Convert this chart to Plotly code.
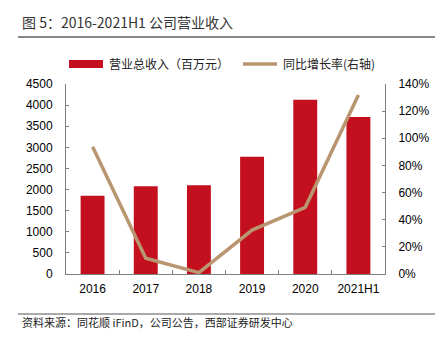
import plotly.graph_objects as go

categories = ["2016", "2017", "2018", "2019", "2020", "2021H1"]
revenue = [1855, 2077, 2101, 2778, 4128, 3718]
growth = [93.8, 11.6, 1.0, 32.4, 49.1, 131.9]
left_ticks = [0, 500, 1000, 1500, 2000, 2500, 3000, 3500, 4000, 4500]
right_ticks = [0, 20, 40, 60, 80, 100, 120, 140]

W, H = 441, 338
L, R, T, B = 66, 385, 84, 274
pw, ph = R - L, B - T

def px(x):
    return (x - L) / pw

def py(y):
    return (B - y) / ph

RED = "#C40F1F"
TAN = "#B9966F"
AX = "#808080"
NUM_FONT = "Liberation Sans, Arial, sans-serif"
CJK_FONT = "Noto Sans CJK SC, sans-serif"

fig = go.Figure()
fig.add_trace(go.Bar(x=categories, y=revenue, marker=dict(color=RED, line=dict(width=0)),
                     width=0.45, name="营业总收入（百万元）", yaxis="y"))
fig.add_trace(go.Scatter(x=categories, y=growth, mode="lines", line=dict(color=TAN, width=3.5),
                         name="同比增长率(右轴)", yaxis="y2"))

fig.update_layout(
    width=W, height=H,
    margin=dict(l=L, r=W - R, t=T, b=H - B, pad=0),
    paper_bgcolor="white", plot_bgcolor="white",
    showlegend=False,
    bargap=0.55,
    xaxis=dict(type="category", showgrid=False, showline=True, linecolor=AX, linewidth=1,
               ticks="inside", ticklen=4, tickcolor=AX, tickson="boundaries",
               tickfont=dict(family=NUM_FONT, size=12, color="#000"),
               ticklabelstandoff=4, zeroline=False),
    yaxis=dict(range=[0, 4500], tickvals=left_ticks, showgrid=False, showline=True,
               linecolor=AX, linewidth=1, ticks="inside", ticklen=3, tickcolor=AX,
               tickfont=dict(family=NUM_FONT, size=12, color="#000"), zeroline=False,
               ticklabelstandoff=10),
    yaxis2=dict(range=[0, 140], tickvals=right_ticks, ticktext=[f"{v}%" for v in right_ticks],
                overlaying="y", side="right", showgrid=False, showline=True,
                linecolor=AX, linewidth=1, ticks="inside", ticklen=3, tickcolor=AX,
                tickfont=dict(family=NUM_FONT, size=12, color="#000"), zeroline=False,
                ticklabelstandoff=10),
)

shapes = [
    dict(type="line", xref="paper", yref="paper", x0=px(18), x1=px(435), y0=py(37), y1=py(37),
         line=dict(color="#888888", width=2)),
    dict(type="line", xref="paper", yref="paper", x0=px(18), x1=px(435), y0=py(314), y1=py(314),
         line=dict(color="#555555", width=1)),
    dict(type="rect", xref="paper", yref="paper", x0=px(69), x1=px(103), y0=py(68), y1=py(60),
         fillcolor=RED, line=dict(width=0)),
    dict(type="line", xref="paper", yref="paper", x0=px(243), x1=px(277), y0=py(64), y1=py(64),
         line=dict(color=TAN, width=3.5)),
]
fig.update_layout(shapes=shapes)

anns = [
    dict(text="图 5：2016-2021H1 公司营业收入", x=px(20), y=py(22), xanchor="left", yanchor="middle",
         font=dict(family=CJK_FONT, size=14, color="#333")),
    dict(text="营业总收入（百万元）", x=px(107), y=py(64), xanchor="left", yanchor="middle",
         font=dict(family=CJK_FONT, size=12, color="#222")),
    dict(text="同比增长率(右轴)", x=px(281), y=py(64), xanchor="left", yanchor="middle",
         font=dict(family=CJK_FONT, size=12, color="#222")),
    dict(text="资料来源：同花顺 iFinD，公司公告，西部证券研发中心", x=px(20), y=py(322),
         xanchor="left", yanchor="middle", font=dict(family=CJK_FONT, size=11, color="#222")),
]
for a in anns:
    a.update(xref="paper", yref="paper", showarrow=False)
fig.update_layout(annotations=anns)

fig.write_html("out.html")
